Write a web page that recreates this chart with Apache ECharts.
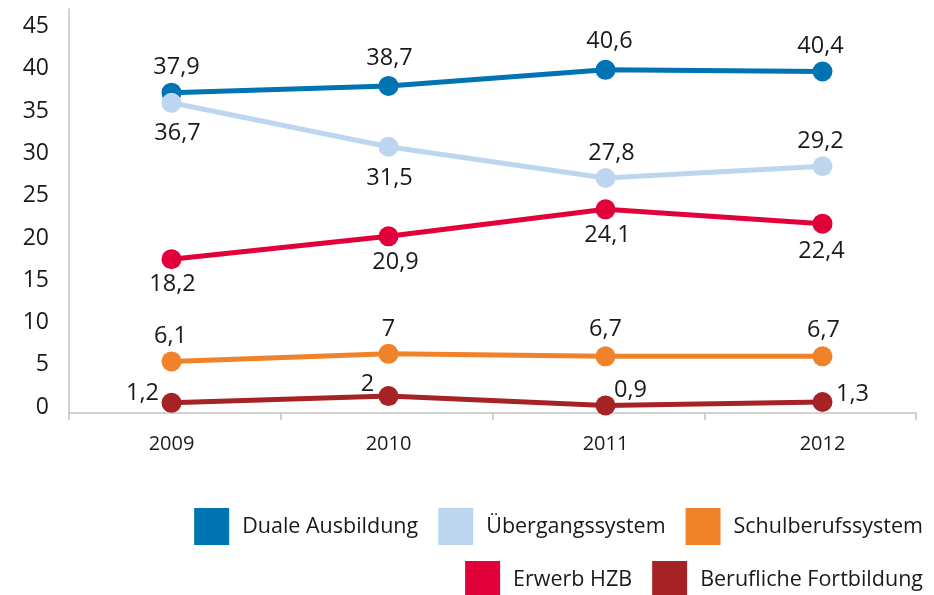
<!DOCTYPE html>
<html>
<head>
<meta charset="utf-8">
<script src="https://cdn.jsdelivr.net/npm/echarts@6/dist/echarts.min.js"></script>
<style>
  html, body { margin: 0; padding: 0; background: #fff; }
  #chart { width: 934px; height: 595px; }
</style>
</head>
<body>
<div id="chart"></div>
<script>
// Jahre (Kategorien)
const years = ['2009', '2010', '2011', '2012'];

// Anteile je Sektor in Prozent
const dualeAusbildung = [37.9, 38.7, 40.6, 40.4];
const uebergangssystem = [36.7, 31.5, 27.8, 29.2];
const schulberufssystem = [6.1, 7, 6.7, 6.7];
const erwerbHZB = [18.2, 20.9, 24.1, 22.4];
const beruflicheFortbildung = [1.2, 2, 0.9, 1.3];

// Beschriftungen der y-Achse
const yTicks = [0, 5, 10, 15, 20, 25, 30, 35, 40, 45];

// Versatz der Wertebeschriftungen relativ zum Punkt [dx, dy] in Pixeln
const offDuale = [[5, -25], [1, -28], [4, -29], [-2, -25]];
const offUeber = [[6, 30], [1, 32], [6, -25], [-2, -25]];
const offSchul = [[-1, -25], [0, -25], [0, -27], [1, -26]];
const offHZB = [[1, 25], [7, 26], [2, 26], [-1, 28]];
const offFort = [[-29, -10], [-21, -12], [25, -15], [30, -8]];

const FONT = '"Open Sans", "Noto Sans", sans-serif';
const TEXT = '#1a1a1a';
const AXIS = '#c4c4c4';

function items(values, offsets) {
  return values.map((v, i) => ({
    value: v,
    label: { offset: offsets[i] }
  }));
}

function lineSeries(name, color, values, offsets) {
  return {
    name: name,
    type: 'line',
    xAxisIndex: 1,
    yAxisIndex: 1,
    data: items(values, offsets),
    symbol: 'circle',
    symbolSize: 20,
    showAllSymbol: true,
    itemStyle: { color: color },
    lineStyle: { color: color, width: 5 },
    label: {
      show: true,
      position: 'inside',
      fontFamily: FONT,
      fontSize: 23.5,
      color: TEXT,
      formatter: p => String(p.value).replace('.', ',')
    },
    emphasis: { disabled: true }
  };
}

const chart = echarts.init(document.getElementById('chart'), null, { renderer: 'canvas' });

const yMax = 47.8; // Achse reicht etwas über die oberste Beschriftung hinaus

const legendText = { fontFamily: FONT, fontSize: 21.5, color: TEXT, padding: [0, 0, 0, 8] };

chart.setOption({
  animation: false,
  backgroundColor: '#ffffff',
  textStyle: { fontFamily: FONT },
  grid: [
    { left: 69, right: 18, top: 9, bottom: 182 },
    { left: 63, right: 3, top: 9, bottom: 182 }
  ],
  xAxis: [
    {
      type: 'category',
      gridIndex: 0,
      data: years,
      boundaryGap: true,
      axisLine: { lineStyle: { color: AXIS, width: 1.5 } },
      axisTick: { show: true, length: 7, lineStyle: { color: AXIS, width: 1.5 } },
      axisLabel: { show: false },
      splitLine: { show: false }
    },
    {
      type: 'category',
      gridIndex: 1,
      data: years,
      boundaryGap: true,
      axisLine: { show: false },
      axisTick: { show: false },
      axisLabel: { fontFamily: FONT, fontSize: 20, color: TEXT, margin: 21 },
      splitLine: { show: false }
    }
  ],
  yAxis: [
    {
      type: 'value',
      gridIndex: 0,
      min: 0,
      max: yMax,
      interval: 5,
      axisLine: { show: true, lineStyle: { color: AXIS, width: 1.5 } },
      axisTick: { show: false },
      splitLine: { show: false },
      axisLabel: {
        fontFamily: FONT,
        fontSize: 23,
        color: TEXT,
        margin: 20,
        verticalAlign: 'bottom',
        lineHeight: 12,
        formatter: v => (yTicks.indexOf(v) >= 0 ? String(v) : '')
      }
    },
    {
      type: 'value',
      gridIndex: 1,
      min: 0,
      max: yMax,
      show: false,
      splitLine: { show: false }
    }
  ],
  legend: [
    {
      data: ['Duale Ausbildung', 'Übergangssystem', 'Schulberufssystem'],
      right: 6,
      top: 503,
      icon: 'rect',
      itemWidth: 35,
      itemHeight: 37,
      itemGap: 20,
      textStyle: legendText,
      selectedMode: false
    },
    {
      data: ['Erwerb HZB', 'Berufliche Fortbildung'],
      right: 6,
      top: 556,
      icon: 'rect',
      itemWidth: 35,
      itemHeight: 37,
      itemGap: 20,
      textStyle: legendText,
      selectedMode: false
    }
  ],
  series: [
    lineSeries('Duale Ausbildung', '#0073b2', dualeAusbildung, offDuale),
    lineSeries('Übergangssystem', '#bdd6f0', uebergangssystem, offUeber),
    lineSeries('Schulberufssystem', '#f0822a', schulberufssystem, offSchul),
    lineSeries('Erwerb HZB', '#e2003b', erwerbHZB, offHZB),
    lineSeries('Berufliche Fortbildung', '#a52324', beruflicheFortbildung, offFort)
  ]
});
</script>
</body>
</html>
